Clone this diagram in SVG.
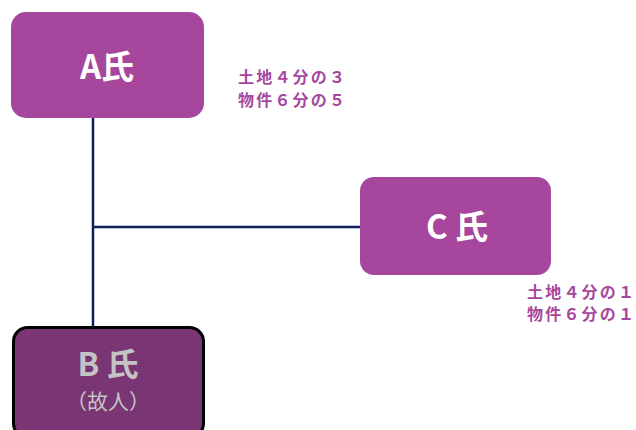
<svg xmlns="http://www.w3.org/2000/svg" width="636" height="430" viewBox="0 0 636 430">
<style>
.box{fill:#A6479D}
.name{font-family:"Noto Sans CJK JP","Liberation Sans",sans-serif;font-weight:bold;fill:#fff;text-anchor:middle}
.lbl{font-family:"Noto Sans CJK JP",sans-serif;font-weight:bold;font-size:16px;fill:#A6479D}
.conn{stroke:#0F1F5C;stroke-width:2.5;fill:none}
</style>
<rect width="636" height="430" fill="#fff"/>
<g id="connectors">
<line class="conn" x1="93" y1="118" x2="93" y2="328"/>
<line class="conn" x1="93" y1="227" x2="360" y2="227"/>
</g>
<g id="nodeA">
<rect class="box" x="11" y="12" width="193" height="106" rx="15"/>
<text class="name" x="107" y="79" font-size="33">A氏</text>
</g>
<g id="labelA">
<text class="lbl" x="238" y="83" textLength="107" lengthAdjust="spacing">土地４分の３</text>
<text class="lbl" x="238" y="106" textLength="107" lengthAdjust="spacing">物件６分の５</text>
</g>
<g id="nodeC">
<rect class="box" x="360" y="177" width="191" height="98" rx="14"/>
<text class="name" x="457" y="239" font-size="33">C 氏</text>
</g>
<g id="labelC">
<text class="lbl" x="527" y="298" textLength="107" lengthAdjust="spacing">土地４分の１</text>
<text class="lbl" x="527" y="320" textLength="107" lengthAdjust="spacing">物件６分の１</text>
</g>
<g id="nodeB">
<rect x="13.5" y="327.5" width="190" height="110" rx="14" fill="#7A3574" stroke="#000" stroke-width="3"/>
<text class="name" x="108" y="376" font-size="32" style="fill:#C4C4C4">B 氏</text>
<text class="name" x="108" y="409" font-size="21" style="fill:#C4C4C4;font-weight:normal">（故人）</text>
</g>
</svg>
